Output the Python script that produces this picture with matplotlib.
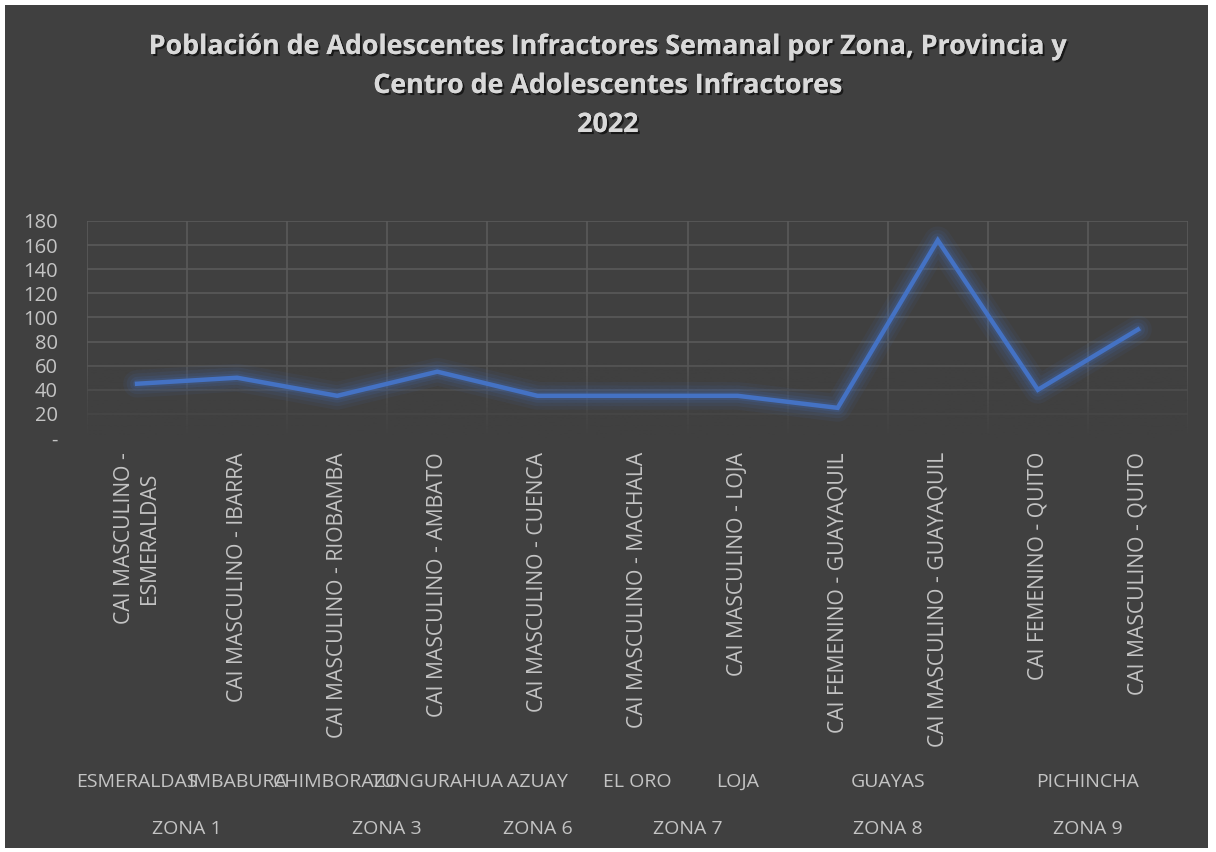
import numpy as np
import matplotlib
matplotlib.use("Agg")
import matplotlib.pyplot as plt
import matplotlib.patheffects as pe
from matplotlib.patches import Rectangle
from matplotlib.transforms import blended_transform_factory

plt.rcParams['font.family'] = ['Open Sans', 'DejaVu Sans']

# data
centros = ["CAI MASCULINO -\nESMERALDAS", "CAI MASCULINO - IBARRA", "CAI MASCULINO - RIOBAMBA",
           "CAI MASCULINO - AMBATO", "CAI MASCULINO - CUENCA", "CAI MASCULINO - MACHALA",
           "CAI MASCULINO - LOJA", "CAI FEMENINO - GUAYAQUIL", "CAI MASCULINO - GUAYAQUIL",
           "CAI FEMENINO - QUITO", "CAI MASCULINO - QUITO"]
poblacion = [45, 50, 35, 55, 35, 35, 35, 25, 164, 40, 90]
provincias = ["ESMERALDAS", "IMBABURA", "CHIMBORAZO", "TUNGURAHUA", "AZUAY", "EL ORO",
              "LOJA", "GUAYAS", "PICHINCHA"]
provincia_span = [(0, 0), (1, 1), (2, 2), (3, 3), (4, 4), (5, 5), (6, 6), (7, 8), (9, 10)]
zonas = ["ZONA 1", "ZONA 3", "ZONA 6", "ZONA 7", "ZONA 8", "ZONA 9"]
zona_span = [(0, 1), (2, 3), (4, 4), (5, 6), (7, 8), (9, 10)]
yticks = [0, 20, 40, 60, 80, 100, 120, 140, 160, 180]

W, H = 1216, 852
bg = '#404040'
txt = '#c4c4c4'
grid_c = '#5a5a5a'
blue = '#4472c4'

fig = plt.figure(figsize=(W / 100, H / 100), dpi=100, facecolor='white')
fig.patches.append(Rectangle((5 / W, 1 - 848 / H), (1208 - 5) / W, (848 - 5) / H,
                             transform=fig.transFigure, facecolor=bg, edgecolor='none', zorder=-10))

ax = fig.add_axes([87 / W, 1 - 438 / H, (1188 - 87) / W, (438 - 221) / H])
ax.set_facecolor(bg)
x = np.arange(len(centros))

# grid
for yv in yticks[1:]:
    ax.axhline(yv, color=grid_c, lw=1.2, zorder=1)
for xv in np.arange(-0.5, len(centros), 1.0):
    ax.axvline(xv, color=grid_c, lw=1.2, zorder=1)
# grid fades out toward the bottom
fade = np.zeros((100, 2, 4))
fade[..., :3] = matplotlib.colors.to_rgb(bg)
fade[..., 3] = np.clip(1 - np.linspace(0, 65, 100)[:, None] / 65, 0, 1) ** 0.8
ax.imshow(fade, extent=(-0.5, len(centros) - 0.5, 0, 65), origin='lower', aspect='auto', zorder=2)
ax.set_xlim(-0.5, len(centros) - 0.5)
ax.set_ylim(0, 180)

# glowing line
for lw, a in [(20, 0.07), (15, 0.09), (10, 0.13), (6, 0.18)]:
    ax.plot(x, poblacion, color=blue, lw=lw, alpha=a, solid_capstyle='round',
            solid_joinstyle='round', zorder=3)
ax.plot(x, poblacion, color=blue, lw=3.2, solid_joinstyle='miter', zorder=4)

for s in ax.spines.values():
    s.set_visible(False)
ax.set_xticks([])
ax.set_yticks(yticks)
ax.set_yticklabels(['-' if v == 0 else str(v) for v in yticks])
ax.tick_params(axis='y', length=0, pad=21, labelsize=14.5, labelcolor=txt)

trans = blended_transform_factory(ax.transData, fig.transFigure)
for i, c in enumerate(centros):
    ax.text(i, 1 - 452 / H, c, rotation=90, ha='center', va='top', multialignment='center',
            color=txt, fontsize=15.2, transform=trans, linespacing=1.3)
for p, (a, b) in zip(provincias, provincia_span):
    ax.text((a + b) / 2, 1 - 782 / H, p, ha='center', va='center', color=txt,
            fontsize=14, transform=trans)
for z, (a, b) in zip(zonas, zona_span):
    ax.text((a + b) / 2, 1 - 829 / H, z, ha='center', va='center', color=txt,
            fontsize=14, transform=trans)

shadow = [pe.withSimplePatchShadow(offset=(1.5, -1.5), shadow_rgbFace='black', alpha=0.6),
          pe.Normal()]
title_lines = ["Población de Adolescentes Infractores Semanal por Zona, Provincia y",
               "Centro de Adolescentes Infractores", "2022"]
for line, yy in zip(title_lines, [47, 86, 125]):
    fig.text(608 / W, 1 - yy / H, line, ha='center', va='center', color='#d9d9d9',
             fontsize=19.3, fontweight='bold', path_effects=shadow)

fig.savefig('out.png', dpi=100, facecolor=fig.get_facecolor())
